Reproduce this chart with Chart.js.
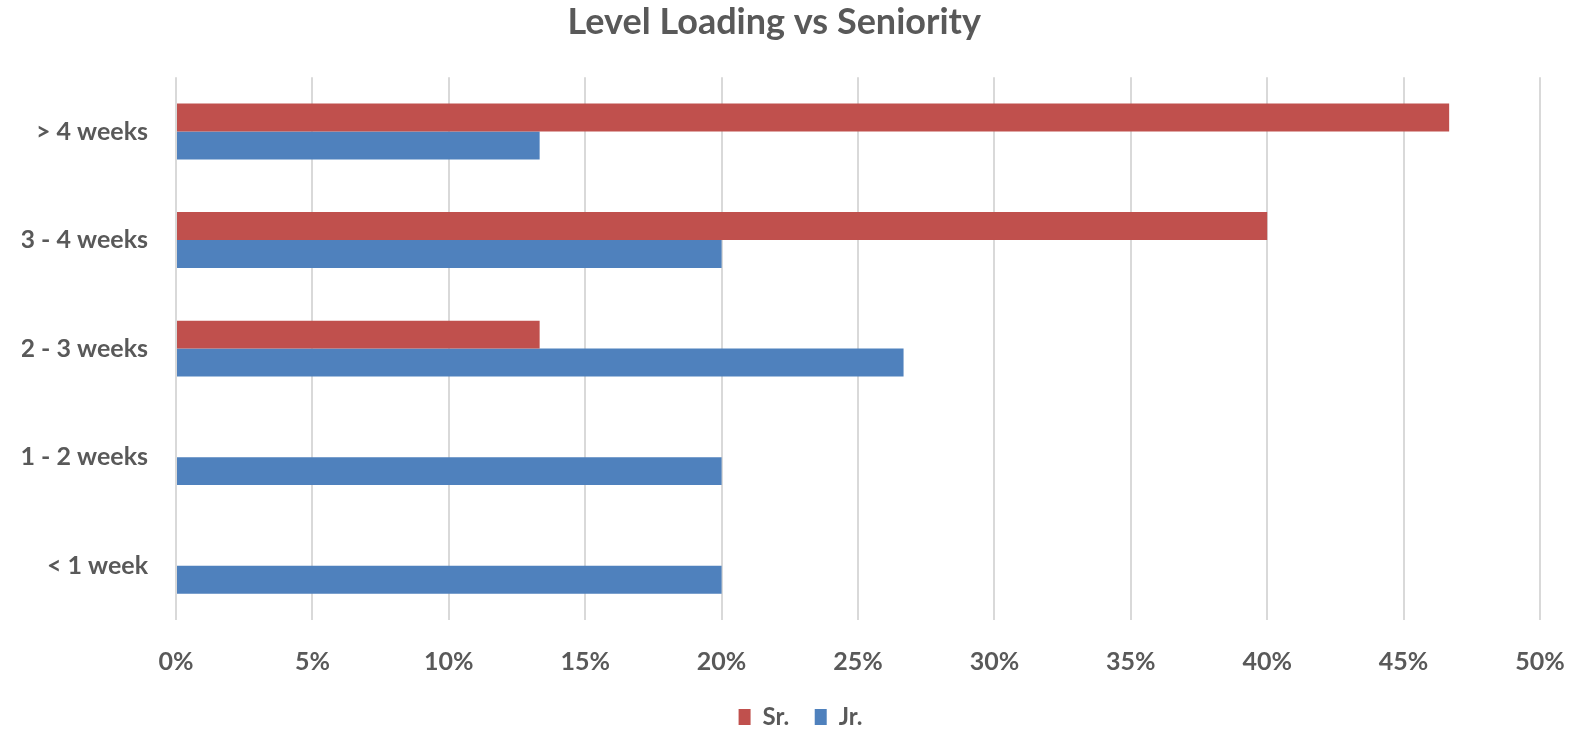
<!DOCTYPE html>
<html lang="en">
<head>
    <meta charset="UTF-8">
    <title>Level Loading vs Seniority</title>
    <style>
        body {
            margin: 0;
            background-color: #ffffff;
        }
        .chart {
            width: 1579px;
            height: 730px;
        }
    </style>
    <script src="https://cdn.jsdelivr.net/npm/chart.js"></script>
</head>
<body>

<div class="chart">
    <canvas id="loadChart"></canvas>
</div>

<script>
    const categories = ['> 4 weeks', '3 - 4 weeks', '2 - 3 weeks', '1 - 2 weeks', '< 1 week'];
    const srValues = [46.67, 40, 13.33, 0, 0];
    const jrValues = [13.33, 20, 26.67, 20, 20];
    const tickSteps = [0, 5, 10, 15, 20, 25, 30, 35, 40, 45, 50];

    const textColor = '#595959';
    const fontName = 'Lato, "Open Sans", sans-serif';

    const ctx = document.getElementById('loadChart').getContext('2d');
    const loadChart = new Chart(ctx, {
        type: 'bar',
        data: {
            labels: categories,
            datasets: [{
                label: 'Sr.',
                data: srValues,
                backgroundColor: '#C0504D',
                borderWidth: 0
            }, {
                label: 'Jr.',
                data: jrValues,
                backgroundColor: '#4F81BD',
                borderWidth: 0
            }]
        },
        options: {
            indexAxis: 'y',
            responsive: true,
            maintainAspectRatio: false,
            animation: false,
            layout: {
                padding: { left: 22, right: 0, top: 0, bottom: -9 }
            },
            datasets: {
                bar: {
                    categoryPercentage: 0.515,
                    barPercentage: 1.0
                }
            },
            plugins: {
                title: {
                    display: true,
                    // trailing spaces nudge the centred title a little to the left
                    text: 'Level Loading vs Seniority      ',
                    color: textColor,
                    font: { family: fontName, size: 36, weight: 'bold' },
                    padding: { top: 1, bottom: 33 }
                },
                legend: {
                    position: 'bottom',
                    labels: {
                        color: textColor,
                        font: { family: fontName, size: 24, weight: 'bold' },
                        boxWidth: 12,
                        boxHeight: 16,
                        padding: 8,
                        generateLabels: (chart) => {
                            const items = Chart.defaults.plugins.legend.labels.generateLabels(chart);
                            // a bit more room between the two entries
                            items.forEach((item, i) => {
                                if (i < items.length - 1) item.text = item.text + '   ';
                            });
                            return items;
                        }
                    }
                },
                tooltip: { enabled: false }
            },
            scales: {
                x: {
                    min: 0,
                    max: 50,
                    afterBuildTicks: (scale) => {
                        scale.ticks = tickSteps.map(v => ({ value: v }));
                    },
                    afterFit: (scale) => {
                        scale.height = 77;
                        scale.paddingLeft = 0;
                        scale.paddingRight = 39;
                    },
                    ticks: {
                        color: textColor,
                        font: { family: fontName, size: 25, weight: 'bold' },
                        padding: 27,
                        maxRotation: 0,
                        callback: (v) => v + '%'
                    },
                    grid: {
                        color: '#d9d9d9',
                        lineWidth: 2,
                        drawTicks: false
                    },
                    border: { display: false }
                },
                y: {
                    afterFit: (scale) => {
                        scale.width = 154;
                    },
                    ticks: {
                        color: textColor,
                        font: { family: fontName, size: 25, weight: 'bold' },
                        padding: 20
                    },
                    grid: { display: false },
                    border: { display: false }
                }
            }
        }
    });
</script>

</body>
</html>
